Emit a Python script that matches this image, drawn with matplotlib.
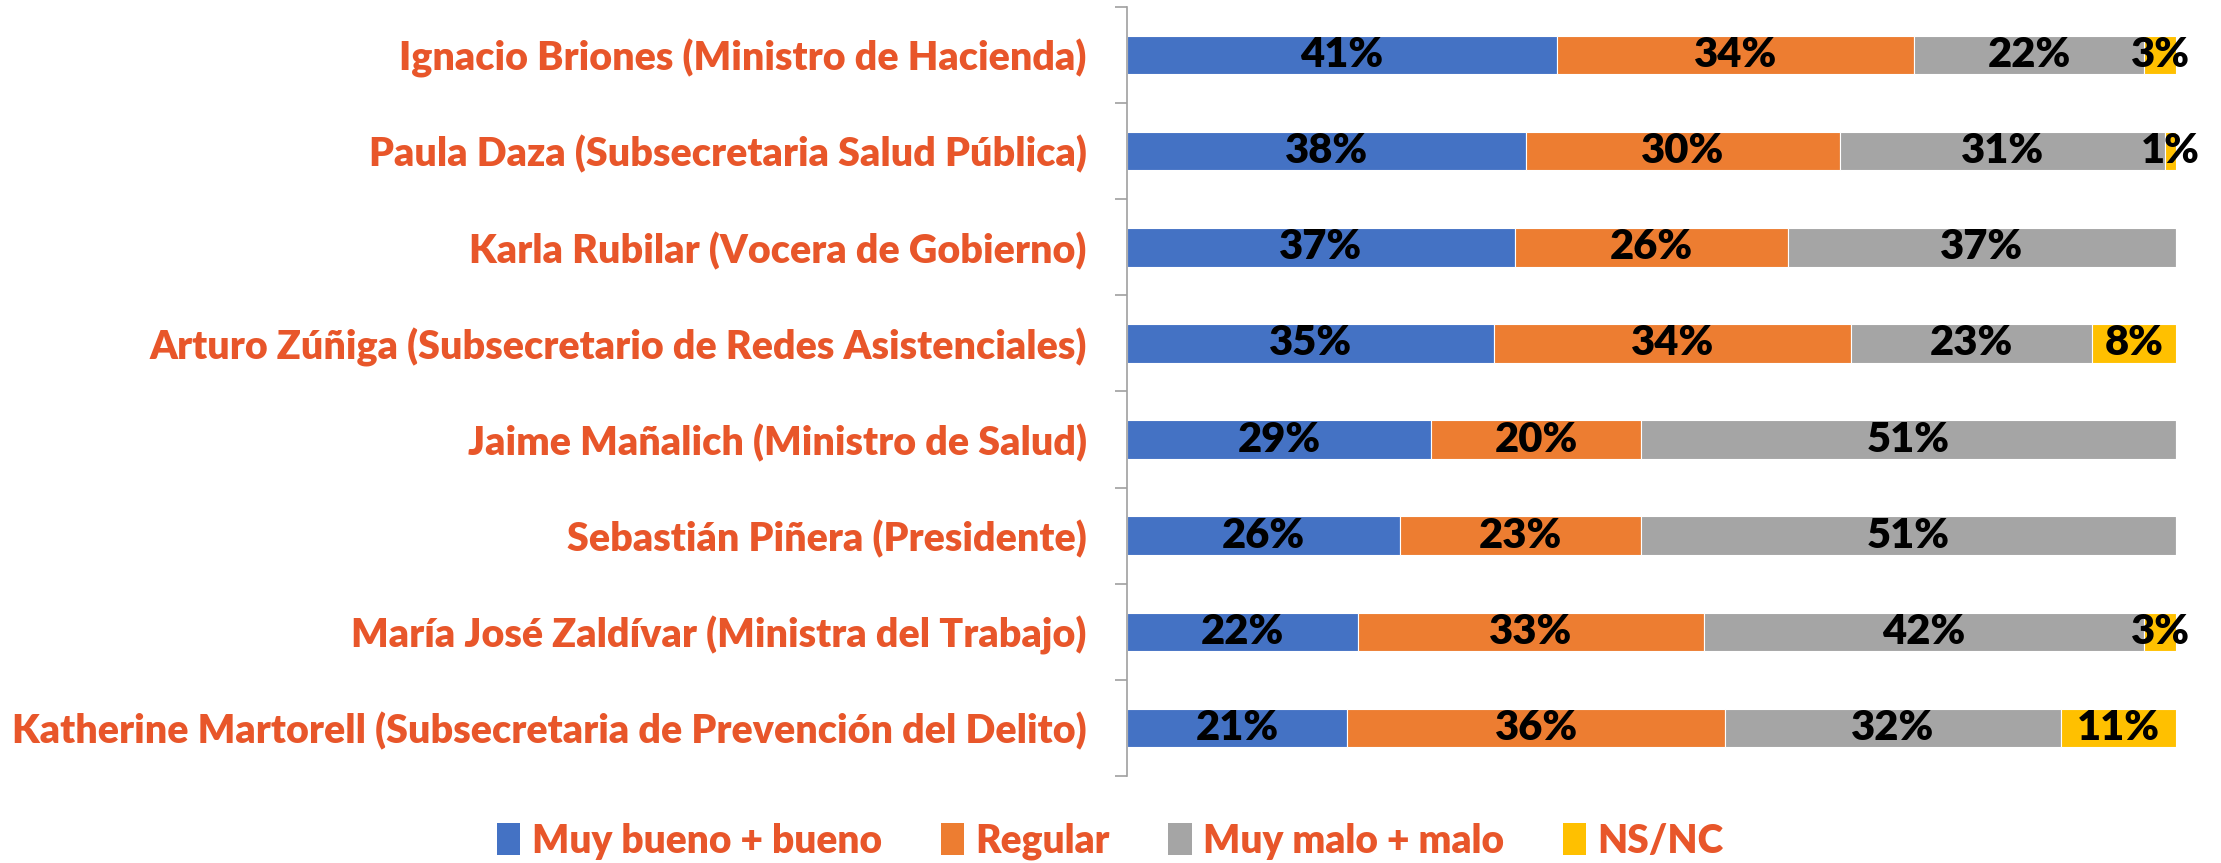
import numpy as np
import matplotlib.pyplot as plt
from matplotlib.patches import Patch

plt.rcParams['font.family'] = ['Lato', 'DejaVu Sans']

personas = ['Ignacio Briones (Ministro de Hacienda)',
            'Paula Daza (Subsecretaria Salud Pública)',
            'Karla Rubilar (Vocera de Gobierno)',
            'Arturo Zúñiga (Subsecretario de Redes Asistenciales)',
            'Jaime Mañalich (Ministro de Salud)',
            'Sebastián Piñera (Presidente)',
            'María José Zaldívar (Ministra del Trabajo)',
            'Katherine Martorell (Subsecretaria de Prevención del Delito)']

bueno = [41, 38, 37, 35, 29, 26, 22, 21]
regular = [34, 30, 26, 34, 20, 23, 33, 36]
malo = [22, 31, 37, 23, 51, 51, 42, 32]
nsnc = [3, 1, 0, 8, 0, 0, 3, 11]

series = ['Muy bueno + bueno', 'Regular', 'Muy malo + malo', 'NS/NC']
colores = ['#4472C4', '#ED7D31', '#A5A5A5', '#FFC000']
rojo = '#E8562A'

fig = plt.figure(figsize=(22.21, 8.63), dpi=100)
ax = fig.add_axes([0.5074, 0.1008, 0.4723, 0.8911])

y = np.arange(len(personas))
left = np.zeros(len(personas))
for vals, col in zip([bueno, regular, malo, nsnc], colores):
    vals = np.array(vals, dtype=float)
    ax.barh(y, vals, left=left, height=0.4, color=col, edgecolor='white', linewidth=0.8)
    for yi, l, v in zip(y, left, vals):
        if v > 0:
            ax.text(l + v / 2, yi, f'{int(v)}%', ha='center', va='center',
                    fontsize=30, fontweight='heavy', color='black')
    left += vals

ax.set_xlim(0, 100)
ax.set_ylim(len(personas) - 0.5, -0.5)
ax.set_yticks(y)
ax.set_yticklabels(personas, fontsize=28.4, fontweight='heavy', color=rojo)
ax.tick_params(axis='y', which='major', length=0, pad=29)
ax.set_yticks(np.arange(-0.5, len(personas)), minor=True)
ax.tick_params(axis='y', which='minor', length=9, color='#A0A0A0', width=1.2)
ax.set_xticks([])
for s in ['top', 'right', 'bottom']:
    ax.spines[s].set_visible(False)
ax.spines['left'].set_color('#A0A0A0')
ax.spines['left'].set_linewidth(1.2)

handles = [Patch(facecolor=c, label=s) for s, c in zip(series, colores)]
leg = fig.legend(handles=handles, loc='center', bbox_to_anchor=(0.5, 0.025), ncol=4,
                 frameon=False, handlelength=0.6, handleheight=0.9, handletextpad=0.3,
                 columnspacing=1.5, prop={'size': 28, 'weight': 'heavy'})
for t in leg.get_texts():
    t.set_color(rojo)

fig.savefig('out.png', dpi=100)
